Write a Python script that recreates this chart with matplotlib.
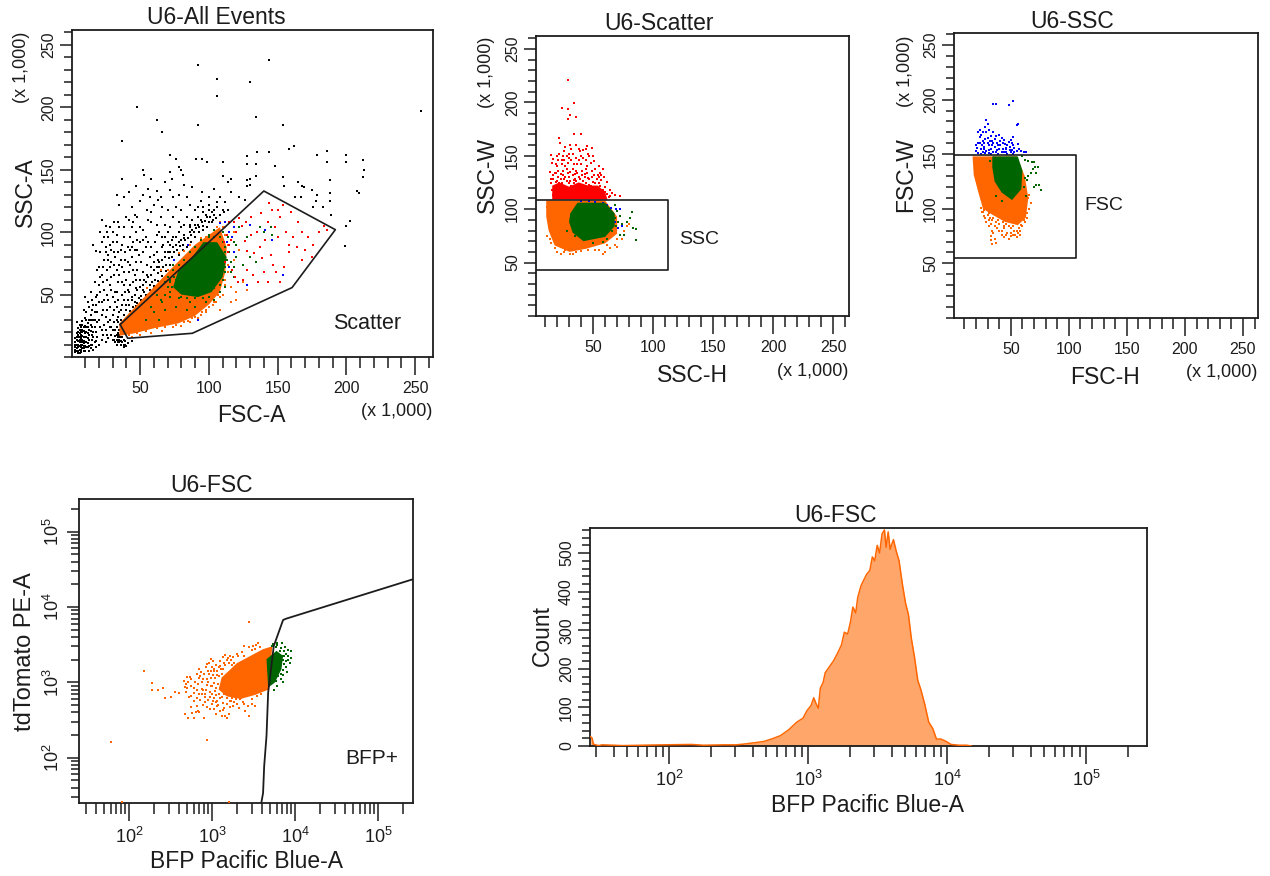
import matplotlib
matplotlib.use('Agg')
import matplotlib.pyplot as plt
from matplotlib.ticker import MultipleLocator, LogLocator, NullFormatter

plt.rcParams['font.family'] = ['Liberation Sans', 'DejaVu Sans']
plt.rcParams['mathtext.fontset'] = 'custom'
plt.rcParams['mathtext.rm'] = 'Liberation Sans'
plt.rcParams['mathtext.default'] = 'rm'

W, H = 1270, 876
ORANGE, GREEN, RED, BLUE = '#ff6600', '#006400', '#ff0000', '#0000ff'
INK = '#1c1c1c'

# ---- panel 1: FSC-A / SSC-A, all events (x 1,000)
all_black = [
    (3,4),(4,7),(5,5),(4,10),(6,9),(5,13),(3,15),(6,16),(7,12),(4,19),(7,20),(5,23),(6,26),(4,28),(8,7),(9,5),
    (10,9),(9,13),(11,12),(8,17),(10,16),(12,8),(13,5),(14,10),(12,15),(15,14),(11,20),(9,24),(13,22),(8,29),
    (10,31),(12,27),(14,26),(16,20),(17,12),(18,8),(20,10),(19,16),(22,14),(16,30),(14,34),(11,36),(9,38),(13,40),
    (17,36),(19,28),(21,24),(23,18),(25,12),(27,15),(24,26),(22,34),(18,42),(15,46),(12,44),(10,48),(14,52),(19,50),
    (22,44),(26,38),(28,30),(30,22),(32,17),(34,12),(36,10),(38,8),(33,24),(30,34),(27,46),(24,54),(20,58),(17,60),
    (22,66),(26,62),(29,54),(32,44),(35,36),(36,30),(33,40),(37,20),(39,13),(41,11),(44,13),(34,19),(35,16),(33,14),
    (36,22),(31,14),(29,18),(28,24),(4,5),(6,3),(7,6),(5,8),(8,10),(6,12),(9,9),(7,15),(5,18),(8,22),(6,22),(3,10),
    (20,72),(24,78),(18,85),(22,92),(25,88),(28,72),(31,66),(34,60),(37,50),(40,42),(38,58),(41,54),(44,48),(35,74),
    (32,80),(29,86),(27,96),(30,100),(33,92),(36,86),(39,78),(42,68),(45,60),(47,55),(50,62),(48,70),(44,80),(41,88),
    (38,96),(35,104),(31,108),(25,105),(21,100),(16,90),(26,70),(29,64),(33,52),(23,60),(38,68),(43,74),(46,66),
    (52,68),(40,62),(36,78),(31,74),(27,82),(34,84),(24,96),(28,104),(22,110),(40,112),(44,104),(48,94),(52,84),
    (55,74),(58,72),(60,82),(56,92),(52,102),(48,112),(44,120),(38,128),(33,130),(35,122),(42,132),(50,125),(47,137),
    (52,130),(55,118),(58,108),(62,98),(66,88),(68,84),(72,90),(70,100),(65,112),(60,122),(56,135),(53,146),(62,133),
    (66,120),(74,112),(78,100),(82,95),(86,104),(80,118),(74,128),(68,140),(72,148),(80,150),(82,138),(86,122),(92,112),
    (96,105),(100,108),(104,114),(110,118),(108,128),(100,128),(94,125),(104,135),(114,140),(116,132),(122,128),(126,126),
    (130,138),(134,145),(128,142),(110,145),(95,132),(88,136),(45,108),(47,100),(43,96),(50,92),(46,86),(54,96),(58,88),
    (61,92),(64,100),(68,106),(72,104),(76,96),(80,104),(84,112),(90,118),(76,120),(70,118),(63,126),(57,128),
    (41,32),(43,37),(45,40),(47,41),(49,47),(51,49),(53,52),(55,55),(57,58),(59,60),(61,62),(63,67),(65,69),(67,72),
    (69,74),(71,79),(73,80),(75,84),(77,86),(79,89),(81,90),(83,94),(85,95),(87,98),(89,100),(91,103),(93,104),(95,108),
    (97,109),(99,112),(101,112),(103,110),(38,34),(40,38),(42,42),(44,46),(46,50),(48,54),(50,56),(52,58),(54,60),
    (56,64),(58,66),(60,70),(62,72),(64,76),(66,78),(68,80),(70,84),(74,88),(78,92),(82,98),(86,100),(90,106),(94,110),
    (98,114),(102,116),(106,120),(36,38),(37,42),(38,46),(34,32),(39,30),(42,52),(47,62),(55,66),(62,84),(67,90),(73,94),
    (92,234),(144,238),(106,223),(130,220),(106,209),(48,200),(62,190),(134,192),(92,186),(154,186),(66,180),(37,173),
    (254,197),(162,169),(158,167),(186,165),(179,162),(200,162),(72,162),(76,159),(128,161),(135,164),(144,164),(91,159),
    (95,159),(99,156),(110,156),(128,155),(134,155),(148,153),(186,156),(200,156),(212,158),(213,150),(212,144),(208,133),
    (209,131),(188,142),(188,131),(188,125),(154,144),(155,137),(165,140),(168,137),(169,136),(175,134),(179,130),(178,125),
    (176,120),(183,120),(163,128),(167,128),(199,89),(200,105),(203,109),(189,114),(37,143),(52,150),(58,143),(78,152),
    (73,143),(81,146),(116,143),(130,143),(128,137),
    (3,6),(3,8),(3,12),(4,14),(4,16),(5,3),(5,10),(5,16),(5,20),(6,6),(6,14),(6,19),(7,4),(7,8),(7,10),(7,18),(7,24),(8,12),
    (8,14),(8,20),(8,26),(9,7),(9,11),(9,16),(9,21),(10,5),(10,12),(10,19),(10,25),(11,8),(11,16),(11,24),(11,30),(12,11),
    (12,19),(12,24),(13,9),(13,14),(13,18),(13,30),(14,7),(14,21),(14,30),(15,10),(15,18),(15,24),(15,38),(16,6),(16,16),
    (16,42),(17,24),(17,30),(18,13),(18,20),(18,48),(19,36),(20,30),(20,44),(21,52),(22,22),(23,38),(24,46),(25,22),(25,32),
    (26,18),(26,50),(27,28),(28,40),(28,58),(29,24),(30,48),(30,14),(31,28),(31,38),(32,22),(32,52),(33,10),(34,28),(34,46),
    (35,12),(35,22),(35,14),(36,16),(36,26),(37,12),(37,16),(38,10),(38,14),(39,10),(40,9),(34,16),(33,18),(32,12),(36,13),
    (35,18),(37,24),(33,30),
    (21,64),(19,70),(23,72),(25,84),(21,84),(27,78),(29,76),(31,84),(33,70),(35,66),(37,60),(39,52),(41,46),(43,58),(45,70),
    (47,76),(49,82),(51,76),(53,62),(37,72),(39,84),(41,76),(43,86),(45,92),(37,90),(33,98),(28,90),(26,100),(30,92),(34,108),
    (38,104),(42,110),(46,114),(50,104),(54,88),(57,80),(60,76),(63,78),(66,96),(70,92),(74,96),(78,108),(82,106),(88,110),
    (92,120),(96,116),(84,128),(78,130),(72,134),(65,128),(58,116),(56,110),(52,94),(48,86),(44,88),(62,106),(68,96),
    (43,33),(45,36),(48,43),(51,46),(54,50),(57,54),(60,57),(63,61),(66,65),(69,69),(72,74),(75,78),(78,82),(81,86),(84,88),
    (87,92),(90,96),(93,100),(96,102),(99,104),(102,108),(105,111),(108,114),(111,116),(114,118),(104,118),(100,118),(96,120),
    (106,124),(112,124),(86,106),(88,102),(92,106),(100,122),(76,90),(80,94),(72,84),(64,72),(52,54),(46,44),
]
all_red = [
    (115,90),(120,100),(124,105),(126,93),(128,85),(131,98),(133,83),(135,100),(137,88),(139,79),(141,94),(143,108),
    (146,118),(148,104),(150,96),(152,112),(154,122),(156,100),(158,90),(145,82),(147,74),(140,68),(136,60),(143,60),
    (149,68),(152,60),(128,70),(125,62),(132,66),(160,116),(165,108),(168,100),(172,96),(176,90),(180,100),(184,105),
    (186,102),(164,88),(170,86),(175,80),(168,78),(161,96),(158,84),(155,72),(150,118),(144,123),(138,115),(131,112),
    (127,108),(122,111),(118,108),(112,76),(114,84),(117,70),(119,64),(121,60),(115,108),(113,98),(111,92),(116,94),
]
all_orange = [
    (112,62),(116,56),(120,52),(110,50),(105,44),(100,40),(95,36),(90,32),(85,29),(118,78),(122,86),(114,68),(125,60),
    (128,54),(120,46),(116,44),(108,38),(112,104),(118,100),(106,104),(98,96),(44,16),(50,18),(58,19),(66,21),(74,24),
    (80,25),(86,28),(92,31),(98,36),(103,42),(107,50),(40,30),(48,40),(60,55),(70,70),(82,85),(94,95),(112,82),(110,72),
    (42,18),(48,19),(54,21),(62,23),(68,24),(76,26),(82,28),(88,31),(94,34),(98,38),(104,44),(108,48),(112,58),(114,74),
    (114,90),(112,98),(110,104),(108,108),(86,90),(78,83),(65,70),(55,55),(42,34),
]
all_green = [
    (115,84),(120,90),(125,74),(130,80),(134,76),(128,96),(122,104),(118,108),(112,108),(137,104),(146,98),(145,104),
    (140,100),(112,56),(118,64),(108,52),(104,46),(98,44),(90,40),(84,38),(76,40),(68,38),(72,48),(65,46),(60,36),(64,30),
    (54,30),(80,48),(86,44),(73,56),(68,50),(112,72),(106,60),(100,96),(104,102),(110,100),(114,96),(75,64),(72,62),(112,88),
    (72,60),(74,70),(78,74),(82,78),(86,84),(90,88),(94,94),(100,98),(104,96),(110,92),(112,84),(113,78),(112,68),(110,62),
    (108,58),(104,55),(100,48),(96,47),(90,47),(84,47),(78,47),(72,52),(70,56),(68,60),(66,44),(62,50),(58,40),(76,62),(74,74),
    (70,64),(116,76),(116,68),(118,72),(120,80),(118,92),(108,96),
]
all_blue = [
    (115,100),(117,96),(113,92),(112,108),(118,104),(130,106),(141,102),(146,94),(154,66),(128,58),(92,30),(115,72),
    (118,84),(75,78),(85,90),(108,107),
]
all_orange_core = [(35,17),(35,27),(72,70),(90,90),(108,104),(113,88),(112,68),(108,52),(100,42),(90,33),(78,27),(60,23),(46,19)]
all_green_core = [(74,56),(78,70),(88,80),(96,92),(106,92),(113,80),(110,64),(102,52),(92,48),(80,50)]
scatter_gate = [(35.5,26),(140,133),(192,102),(160.5,55.6),(88,19),(41,15),(35.5,26)]

# ---- panel 2: SSC-H / SSC-W
ssc_red = [
    (29,221),(34,199),(24,195),(29,194),(30.5,188),(35.5,186),(29,184),(34,170),(40,170),(22,167),(22.5,162),(31,160),
    (45,159),(49,157),(15,151),(39,154),(26,154),(17,147),(16,143),(14,135),(20,140),(24,146),(28,150),(33,152),(36,148),
    (40,150),(44,146),(47,150),(51,145),(55,140),(58,138),(54,132),(49,136),(45,140),(41,136),(37,142),(33,138),(29,143),
    (25,136),(21,130),(17,128),(15,124),(18,120),(22,124),(26,128),(30,130),(34,127),(38,130),(42,126),(46,129),(50,125),
    (53,121),(57,127),(62,125),(64,118),(66,115),(68,113),(72,112),(63,111),(60,116),(56,118),(52,116),(48,119),(44,120),
    (40,122),(36,119),(32,122),(28,120),(24,118),(20,116),(17,113),(19,125),(31,135),(43,133),(35,133),(23,133),(27,140),
    (47,123),(55,124),(60,121),(38,146),(42,155),(36,160),(30,148),(25,150),(18,134),(21,146),
    (16,118),(18,122),(20,126),(22,120),(24,124),(26,122),(28,126),(30,124),(32,118),(34,124),(36,126),(38,122),(40,118),
    (42,122),(44,124),(46,118),(48,122),(50,118),(52,124),(54,119),(56,122),(58,118),(60,112),(62,114),(64,112),(15,128),
    (17,132),(19,134),(21,136),(23,128),(25,132),(27,130),(29,134),(31,126),(33,132),(35,128),(37,134),(39,128),(41,132),
    (43,130),(45,134),(47,128),(49,130),(51,132),(53,128),(55,130),(57,132),(59,130),(20,150),(24,142),(28,138),(32,146),
    (36,136),(40,142),(44,138),(48,143),(52,138),(56,134),(34,142),(30,152),(26,146),(22,152),(19,142),(42,148),(46,152),
    (50,150),(44,156),(38,156),(32,156),(27,158),
]
ssc_green = [
    (68,104),(70,98),(72,94),(68,92),(71,88),(74,86),(78,88),(82,97),(81,92),(83,82),(86,81),(86,71),(76,76),(72,76),
    (69,84),(66,80),(62,72),(58,69),(50,68),(35,75),(28,80),
]
ssc_blue = [(40,108),(47,108),(52,107),(58,106),(62,104),(65,101),(69,100),(72,100),(68,88),(71,82),(74,84)]
ssc_orange = [
    (20,60),(23,58),(26,60),(31,58),(33,58),(40,61),(46,62),(52,62),(55,62),(58,58),(60,60),(64,64),(68,66),(70,65),(74,72),
    (78,84),(80,86),(76,80),(70,72),(62,66),(14,72),(15,68),(13,84),(12,102),(12,75),(18,64),(36,60),(27,62),
]
ssc_orange_core = [(11,108),(60,108),(70,93),(70,77),(60,68),(44.5,63),(30.5,60),(18,66),(13,80),(11,93)]
ssc_green_core = [(31,96),(37,106),(60,106),(68,96),(68,84),(60,74),(42,70),(33,78),(30,88)]
ssc_red_core = [(16,109),(16,122),(22,125),(30,121),(38,125),(46,122),(54,122),(60,116),(62,109)]
ssc_gate_x = [0, 112, 112, 0]
ssc_gate_y = [108.7, 108.7, 43, 43]

# ---- panel 3: FSC-H / FSC-W
fsc_blue = [
    (35,196),(37,196),(48,195),(52,199),(55,177),(56,178),(52,166),(30,178),(29,170),(28,175),(23,166),(24,168),(30,165),
    (33,167),(37,167),(40,168),(42,165),(23,160),(26,162),(30,160),(34,162),(38,160),(41,162),(45,159),(48,161),(51,160),
    (56,159),(57,155),(59,153),(61,152),(63,152),(20,153),(21,156),(24,155),(27,157),(29,153),(33,155),(36,157),(40,155),
    (43,155),(46,156),(49,154),(53,156),(55,153),(22,151),(26,152),(31,151),(37,152),(44,152),(50,152),
    (20,158),(22,160),(25,158),(27,160),(28,164),(31,158),(32,162),(35,160),(36,164),(39,158),(43,160),(44,163),(46,152),
    (47,158),(49,157),(50,163),(52,158),(53,152),(24,150),(28,151),(33,150),(35,152),(39,150),(42,152),(47,150),(52,150),
    (27,155),(31,154),(34,158),(38,154),(41,158),(46,155),(51,154),(26,170),(31,172),(35,170),(22,170),(29,181),(23,172),
]
fsc_green = [
    (60,148),(62,145),(65,144),(68,143),(70,143),(71,138),(69,136),(67,133),(65,130),(72,133),(73,138),(62,128),(64,126),
    (72,122),(74,122),(76,117),(70,120),(61,120),(63,112),(39,136),(32,144),(37,112),(42,107),
]
fsc_orange = [
    (67,105),(64,108),(62,100),(64,96),(61,90),(59,85),(57,82),(56,78),(52,76),(50,75),(54,88),(47,78),(48,84),(44,82),(43,88),
    (40,80),(36,84),(35,78),(33,86),(31,90),(29,88),(27,93),(33,75),(34,68),(37,69),(35,92),(39,90),(41,96),(46,92),(49,90),
    (52,92),(56,92),(25,97),(24,101),(27,99),(31,96),(36,96),(42,80),(44,74),(53,80),(58,76),(30,100),(65,110),(66,113),
    (26,97),(28,92),(30,94),(32,92),(34,90),(37,88),(40,86),(44,84),(46,86),(50,82),(52,84),(55,80),(58,80),(60,84),(62,88),
    (64,92),(66,100),(38,82),(34,80),(31,84),(42,76),(46,76),(50,78),(54,76),(33,71),(36,72),(48,72),(55,74),
]
fsc_orange_core = [(17,148),(55,148),(62,130),(65,110),(63,92),(56,85),(45,88),(35,94),(26,100),(22,115),(18,131)]
fsc_green_core = [(34,148),(56,148),(60,135),(59,118),(51,108),(42,115),(36,125),(34,138)]
fsc_gate_x = [0, 106, 106, 0]
fsc_gate_y = [149, 149, 55, 55]

# ---- panel 4: BFP / tdTomato
bfp_orange = [
    (60,160),(82,26),(1600,26),(870,170),(152,1420),(190,990),(190,790),(225,800),(260,830),(270,610),(320,640),(360,740),
    (400,710),(460,1030),(480,950),(470,860),(490,750),(500,1180),(540,1160),(560,1090),(550,650),(610,560),(620,1000),
    (650,1300),(690,1480),(720,1200),(760,1000),(750,820),(700,690),(660,480),(580,390),(640,400),(700,400),(780,500),
    (820,700),(870,1100),(900,1400),(930,1780),(960,2020),(1000,1600),(1030,1900),(1060,1400),(1090,1130),(1120,850),
    (940,640),(990,520),(1050,440),(1120,380),(1180,500),(1240,620),(1300,360),(1370,430),(1450,360),(1520,340),(1600,380),
    (1700,560),(1800,480),(1950,600),(2100,450),(2350,550),(2500,420),(2750,360),(2300,680),(1080,760),(1180,950),
    (1220,1200),(1280,1500),(1340,2150),(1380,1780),(1420,2300),(1500,1950),(1560,2100),(1640,2200),(1720,1700),(1100,680),
    (1160,560),(1400,700),(1500,620),(1600,680),(1300,780),(1230,830),(1050,980),(960,880),(860,920),(830,640),(780,780),
    (900,580),(2000,2400),(2300,2500),(2800,2900),(3000,2650),(3400,3120),(3300,2750),(2800,6250),(3800,2900),(2400,2200),
    (1850,1800),(1500,1100),(1700,1400),(920,1280),(1250,1650),(1150,1400),(980,1150),(1000,700),(1350,1000),(1850,700),
    (2200,620),(2600,650),(3000,600),(3500,650),(3900,700),(4200,780),
    (520,1000),(600,850),(680,950),(700,1150),(740,1350),(800,1280),(850,1600),(880,1750),(960,1400),(1020,1250),(1100,1700),
    (1200,1600),(1250,1900),(1350,1500),(1450,1700),(1600,1800),(1700,2000),(1800,2150),(2050,2200),(1000,900),(950,750),
    (1050,620),(1100,550),(1200,700),(1150,480),(1250,420),(1350,530),(1400,450),(1500,520),(1650,470),(1750,620),(1850,540),
    (2000,520),(2150,600),(2450,520),(2700,480),(3000,520),(3300,480),(600,720),(650,620),(720,580),(760,700),(820,540),
    (880,470),(950,440),(1020,560),(850,800),(900,1000),(780,1100),(660,800),(560,900),(500,850),(530,640),(560,470),(470,380),
    (520,340),(600,340),(680,420),(800,340),(1300,630),(1450,800),(1650,560),(1900,640),(2450,3050),(3100,3050),(3600,3300),
    (1150,1250),(1300,1300),(1050,1500),
]
bfp_green = [
    (5400,3250),(6000,3300),(7000,3300),(7600,2900),(8200,2700),(8800,2600),(8200,2250),(9000,2100),(8700,1800),(7200,1980),
    (6500,1700),(7700,1600),(7200,1450),(7900,1350),(7200,1250),(6700,1100),(7100,1000),(6200,1200),(6000,900),(5600,800),
    (7400,2600),(6700,2850),(5300,3000),(6300,1400),(5900,1050),(5500,2300),(6500,2600),(7800,2400),(8300,2000),(7700,1900),
    (6800,1300),(7400,1750),(6100,3100),(5800,2900),(6300,2000),(6900,2200),(7300,2200),
]
bfp_orange_core = [(1300,1150),(2000,1800),(4110,2750),(5300,3000),(4800,800),(3300,680),(2200,600),(1500,650),(1200,800)]
bfp_green_core = [(4520,2020),(5960,2610),(7160,2240),(6840,1490),(5690,990),(4730,850)]
bfp_gate_x = [3930, 4110, 4236, 4520, 4730, 5530, 7160, 7870, 263000]
bfp_gate_y = [25.8, 34, 77, 194, 730, 3030, 6710, 7000, 23300]

# ---- panel 5: BFP histogram
hist_x = [
    27.3,28,28.5,31,33,40,46,64.5,90,145,177,248,303,346,425,485,556,635,726,832,920,985,1052,1100,1148,1186,1227,1286,1330,
    1423,1523,1630,1742,1826,1928,2018,2103,2205,2280,2405,2518,2642,2786,2904,3020,3148,3275,3412,3548,3648,3776,3900,4120,
    4315,4520,4775,5035,5285,5535,5840,6165,6500,6900,7390,7910,8400,9040,9860,10700,12240,13800,14960,
]
hist_count = [
    24,20,5,1,3,2,1,2,3,4,2,3,3,5,9,12,19,27,42,62,72,92,105,125,108,98,150,165,190,205,220,240,262,295,290,320,360,345,385,
    415,430,445,455,490,480,520,500,550,560,515,555,510,535,505,480,420,370,340,280,230,170,145,110,62,45,18,18,12,4,2,2,0,
]
linear_majors = [50, 100, 150, 200, 250]
log_majors = [100, 1000, 10000, 100000]
log_labels = ['$10^{2}$', '$10^{3}$', '$10^{4}$', '$10^{5}$']
count_majors = [0, 100, 200, 300, 400, 500]


def make_axes(left, top, right, bottom):
    ax = fig.add_axes([left / W, 1 - bottom / H, (right - left) / W, (bottom - top) / H])
    for s in ax.spines.values():
        s.set_linewidth(1.3)
        s.set_color(INK)
    ax.set_zorder(2)
    return ax


def style_ticks(ax, xsize=11.5, ysize=11.5, xpad=4, ypad=3):
    ax.tick_params(axis='x', which='major', length=13, width=1.1, color=INK, pad=xpad, labelsize=xsize, labelcolor=INK)
    ax.tick_params(axis='x', which='minor', length=8, width=1.1, color=INK)
    ax.tick_params(axis='y', which='major', length=8.5, width=1.1, color=INK, pad=ypad, labelsize=ysize, labelcolor=INK)
    ax.tick_params(axis='y', which='minor', length=6, width=1.1, color=INK)
    for lab in ax.get_yticklabels():
        lab.set_rotation(90)
        lab.set_va('center')


def linear_axes(ax, xlim, ylim):
    ax.set_xlim(*xlim)
    ax.set_ylim(*ylim)
    ax.set_xticks(linear_majors)
    ax.set_yticks(linear_majors)
    ax.xaxis.set_minor_locator(MultipleLocator(10))
    ax.yaxis.set_minor_locator(MultipleLocator(10))
    style_ticks(ax)


def log_x(ax, xlim):
    ax.set_xscale('log')
    ax.set_xlim(*xlim)
    ax.set_xticks(log_majors)
    ax.set_xticklabels(log_labels)
    ax.xaxis.set_minor_locator(LogLocator(base=10, subs=range(2, 10), numticks=12))
    ax.xaxis.set_minor_formatter(NullFormatter())


def dots(ax, pts, color, z=3):
    xs, ys = zip(*pts)
    ax.scatter(xs, ys, s=3.2, c=color, marker='s', linewidths=0, zorder=z)


def core(ax, pts, color, z=3):
    xs, ys = zip(*pts)
    ax.fill(xs, ys, color=color, linewidth=0, zorder=z)


def label(x, y, s, size=14, rot=0):
    fig.text(x / W, 1 - y / H, s, fontsize=size, rotation=rot, ha='center', va='center', color=INK)


fig = plt.figure(figsize=(W / 100, H / 100), dpi=100)

# panel 1
ax1 = make_axes(72, 30, 433, 357)
linear_axes(ax1, (0.5, 263), (0, 262))
dots(ax1, all_black, 'black', 2)
core(ax1, all_orange_core, ORANGE, 4)
dots(ax1, all_orange, ORANGE, 4)
core(ax1, all_green_core, GREEN, 5)
dots(ax1, all_green, GREEN, 5)
dots(ax1, all_red, RED, 5)
dots(ax1, all_blue, BLUE, 5)
gx, gy = zip(*scatter_gate)
ax1.plot(gx, gy, color=INK, lw=1.2, zorder=6)
label(216, 17, 'U6-All Events', 16.5)
label(251, 416, 'FSC-A', 16.5)
label(25, 192, 'SSC-A', 16.5, 90)
label(22, 67, '(x 1,000)', 13, 90)
label(397, 411, '(x 1,000)', 13)
label(367, 324, 'Scatter', 15.5)

# panel 2
ax2 = make_axes(536, 36, 849, 316)
linear_axes(ax2, (2.5, 263), (0, 262))
dots(ax2, ssc_red, RED, 2)
core(ax2, ssc_red_core, RED, 2)
core(ax2, ssc_orange_core, ORANGE, 3)
dots(ax2, ssc_orange, ORANGE, 3)
dots(ax2, ssc_blue, BLUE, 4)
core(ax2, ssc_green_core, GREEN, 5)
dots(ax2, ssc_green, GREEN, 5)
ax2.plot(ssc_gate_x, ssc_gate_y, color=INK, lw=1.2, zorder=6)
label(659, 23, 'U6-Scatter', 16.5)
label(692, 375, 'SSC-H', 16.5)
label(487, 175, 'SSC-W', 16.5, 90)
label(487, 72, '(x 1,000)', 13, 90)
label(813, 371, '(x 1,000)', 13)
label(699, 239, 'SSC', 14)

# panel 3
ax3 = make_axes(954, 33, 1258, 318)
linear_axes(ax3, (1, 263), (0, 261))
dots(ax3, fsc_blue, BLUE, 2)
core(ax3, fsc_orange_core, ORANGE, 3)
dots(ax3, fsc_orange, ORANGE, 3)
core(ax3, fsc_green_core, GREEN, 5)
dots(ax3, fsc_green, GREEN, 5)
ax3.plot(fsc_gate_x, fsc_gate_y, color=INK, lw=1.2, zorder=6)
label(1072, 21, 'U6-SSC', 16.5)
label(1105, 378, 'FSC-H', 16.5)
label(906, 175, 'FSC-W', 16.5, 90)
label(905, 71, '(x 1,000)', 13, 90)
label(1222, 373, '(x 1,000)', 13)
label(1104, 206, 'FSC', 14)

# panel 4
ax4 = make_axes(79, 499, 413, 803)
log_x(ax4, (25, 262144))
ax4.set_yscale('log')
ax4.set_ylim(25, 270000)
ax4.set_yticks(log_majors)
ax4.set_yticklabels(log_labels)
ax4.yaxis.set_minor_locator(LogLocator(base=10, subs=range(2, 10), numticks=12))
ax4.yaxis.set_minor_formatter(NullFormatter())
style_ticks(ax4, xsize=13, ysize=13)
dots(ax4, bfp_orange, ORANGE, 3)
core(ax4, bfp_orange_core, ORANGE, 3)
core(ax4, bfp_green_core, GREEN, 5)
dots(ax4, bfp_green, GREEN, 5)
ax4.plot(bfp_gate_x, bfp_gate_y, color=INK, lw=1.3, zorder=6)
label(212, 486, 'U6-FSC', 16.5)
label(246, 862, 'BFP Pacific Blue-A', 16.5)
label(25, 652, 'tdTomato PE-A', 17, 90)
label(372, 758, 'BFP+', 15)

# panel 5
ax5 = make_axes(590, 528, 1147, 746)
log_x(ax5, (27, 275000))
ax5.set_ylim(0, 565)
ax5.set_yticks(count_majors)
ax5.yaxis.set_minor_locator(MultipleLocator(20))
style_ticks(ax5, xsize=13, ysize=11.5)
ax5.fill_between(hist_x, hist_count, 0, color='#ffa66b', linewidth=0, zorder=2)
ax5.plot(hist_x, hist_count, color=ORANGE, lw=1.1, zorder=3)
label(835, 515, 'U6-FSC', 16.5)
label(867, 806, 'BFP Pacific Blue-A', 16.5)
label(542, 636, 'Count', 16.5, 90)

fig.savefig('out.png', dpi=100)
